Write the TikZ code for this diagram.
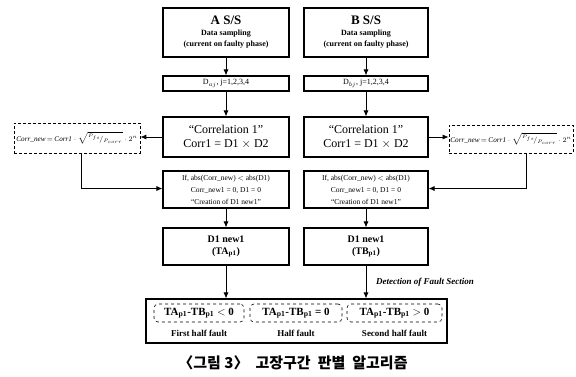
\documentclass[tikz,border=0pt]{standalone}
\usepackage{fontspec}
\setmainfont{Liberation Serif}
\newfontfamily\kr{Noto Sans CJK KR}
\usetikzlibrary{arrows.meta,calc}
\tikzset{
  box/.style={draw, line width=1.1pt, rectangle, inner sep=1pt, align=center},
  cnbox/.style={draw, densely dashed, line width=0.7pt, rectangle, inner sep=1pt, align=center},
  subbox/.style={draw, dashed, line width=0.6pt, rounded corners=4pt, rectangle, inner sep=1pt, align=center},
  arr/.style={line width=0.8pt, -{Latex[length=6pt,width=5pt]}},
  lbl/.style={font=\bfseries\fontsize{9}{10}\selectfont, inner sep=0pt}
}
\newcommand{\cnformula}{\fontsize{7.2}{8}\selectfont $\mathit{Corr\_new}\,{=}\,\mathit{Corr1}\cdot\sqrt{{}^{P_{fs}}\!/{}_{P_{corr}}}\cdot 2^{n}$}
\begin{document}
\begin{tikzpicture}[x=1pt,y=-1pt]
\useasboundingbox (0,0) rectangle (576,376);
% A column
\node[box, minimum width=126pt, minimum height=49pt] (aSS) at (226,32.5)
  {\bfseries\fontsize{13}{15}\selectfont A S/S\\[-1pt]\bfseries\fontsize{8}{10}\selectfont Data sampling\\[-1pt]\bfseries\fontsize{8}{10}\selectfont (current on faulty phase)};
\node[box, minimum width=126pt, minimum height=15pt] (aD) at (226,83.5)
  {\fontsize{8}{9}\selectfont D$_{aj}$, j=1,2,3,4};
\node[box, minimum width=126pt, minimum height=40pt] (aCorr) at (226,137)
  {\fontsize{12}{14}\selectfont ``Correlation 1''\\[2pt]\fontsize{12}{14}\selectfont Corr1 = D1 $\times$ D2};
\node[box, minimum width=126pt, minimum height=37pt] (aIf) at (226,189.5)
  {\fontsize{7.5}{9.5}\selectfont If, abs(Corr\_new) $<$ abs(D1)\\\fontsize{7.5}{9.5}\selectfont Corr\_new1 = 0, D1 = 0\\\fontsize{7.5}{9.5}\selectfont ``Creation of D1 new1''};
\node[box, minimum width=126pt, minimum height=37pt] (aN) at (226,246.5)
  {\bfseries\fontsize{10}{14}\selectfont D1 new1\\\bfseries\fontsize{10}{14}\selectfont (TA$_{\mathbf{p1}}$)};
% B column
\node[box, minimum width=124pt, minimum height=49pt] (bSS) at (366,32.5)
  {\bfseries\fontsize{13}{15}\selectfont B S/S\\[-1pt]\bfseries\fontsize{8}{10}\selectfont Data sampling\\[-1pt]\bfseries\fontsize{8}{10}\selectfont (current on faulty phase)};
\node[box, minimum width=124pt, minimum height=15pt] (bD) at (366,83.5)
  {\fontsize{8}{9}\selectfont D$_{bj}$, j=1,2,3,4};
\node[box, minimum width=124pt, minimum height=40pt] (bCorr) at (366,137)
  {\fontsize{12}{14}\selectfont ``Correlation 1''\\[2pt]\fontsize{12}{14}\selectfont Corr1 = D1 $\times$ D2};
\node[box, minimum width=124pt, minimum height=37pt] (bIf) at (366,189.5)
  {\fontsize{7.5}{9.5}\selectfont If, abs(Corr\_new) $<$ abs(D1)\\\fontsize{7.5}{9.5}\selectfont Corr\_new1 = 0, D1 = 0\\\fontsize{7.5}{9.5}\selectfont ``Creation of D1 new1''};
\node[box, minimum width=124pt, minimum height=37pt] (bN) at (366,246.5)
  {\bfseries\fontsize{10}{14}\selectfont D1 new1\\\bfseries\fontsize{10}{14}\selectfont (TB$_{\mathbf{p1}}$)};
% Corr_new boxes
\node[cnbox, minimum width=126pt, minimum height=30pt] (lCN) at (77,138) {\cnformula};
\node[cnbox, minimum width=124pt, minimum height=28pt] (rCN) at (511,139) {\cnformula};
% bottom
\node[box, minimum width=301pt, minimum height=44pt] (big) at (296.5,321) {};
\node[subbox, minimum width=90pt, minimum height=18pt] (s1) at (199,313)
  {\bfseries\fontsize{11}{12}\selectfont TA$_{\mathbf{p1}}$-TB$_{\mathbf{p1}}$ $<$ 0};
\node[subbox, minimum width=92pt, minimum height=18pt] (s2) at (296,313)
  {\bfseries\fontsize{11}{12}\selectfont TA$_{\mathbf{p1}}$-TB$_{\mathbf{p1}}$ = 0};
\node[subbox, minimum width=95pt, minimum height=18pt] (s3) at (394.5,313)
  {\bfseries\fontsize{11}{12}\selectfont TA$_{\mathbf{p1}}$-TB$_{\mathbf{p1}}$ $>$ 0};
\node[lbl] (l1) at (199,333) {First half fault};
\node[lbl] (l2) at (296,333) {Half fault};
\node[lbl] (l3) at (394.5,333) {Second half fault};
\node[font=\bfseries\itshape\fontsize{9}{10}\selectfont, anchor=west, inner sep=0pt] (det) at (376,282) {Detection of Fault Section};
\node[font=\kr\bfseries\fontsize{15}{16}\selectfont, inner sep=0pt] (cap) at (293,363) {〈그림 3〉\hspace{7pt}고장구간\hspace{7pt}판별\hspace{7pt}알고리즘};
% connectors
\draw[arr] (aSS) -- (aD);
\draw[arr] (aD) -- (aCorr);
\draw[arr] (aIf) -- (aN);
\draw[arr] (bSS) -- (bD);
\draw[arr] (bD) -- (bCorr);
\draw[arr] (bIf) -- (bN);
\draw[arr] (aCorr.west) -- (lCN.east |- aCorr.west);
\draw[arr] (bCorr.east) -- (rCN.west |- bCorr.east);
\draw[arr] ([xshift=4pt]lCN.south) |- ([yshift=1pt]aIf.west);
\draw[arr] ([xshift=15pt]rCN.south) |- ([yshift=1pt]bIf.east);
\draw[arr] (aN.south) -- (aN.south |- big.north);
\draw[arr] (bN.south) -- (bN.south |- big.north);
\end{tikzpicture}
\end{document}
